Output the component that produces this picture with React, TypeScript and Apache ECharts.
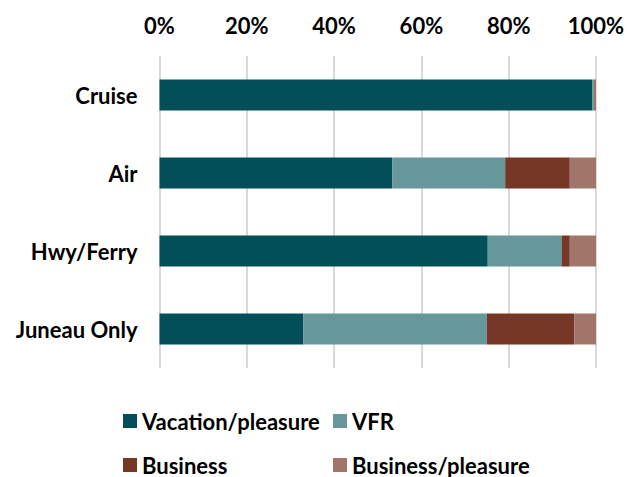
import React, { useEffect, useRef } from "react";
import * as echarts from "echarts";

const categories = ["Cruise", "Air", "Hwy/Ferry", "Juneau Only"];
const vacation = [99.1, 53.3, 75.2, 32.9];
const vfr = [0.4, 25.9, 16.9, 42.1];
const business = [0.2, 14.8, 1.9, 20.0];
const businessPleasure = [0.3, 6.0, 6.0, 5.0];
const xTicks = [0, 20, 40, 60, 80, 100];
const seriesNames = ["Vacation/pleasure", "VFR", "Business", "Business/pleasure"];
const seriesColors = ["#024e59", "#66979b", "#763727", "#a0766a"];

const FONT = "Lato";
const FS = 22;

export default function App() {
  const ref = useRef<HTMLDivElement>(null);
  useEffect(() => {
    const chart = echarts.init(ref.current!, null, { renderer: "svg" });
    const values = [vacation, vfr, business, businessPleasure];
    const legendPos = [
      { left: 123, top: 410 },
      { left: 333, top: 410 },
      { left: 123, top: 454 },
      { left: 333, top: 454 },
    ];
    chart.setOption({
      animation: false,
      textStyle: { fontFamily: FONT },
      grid: { left: 159.5, right: 41, top: 56, bottom: 109 },
      xAxis: {
        type: "value",
        position: "top",
        min: 0,
        max: 100,
        interval: 20,
        axisLine: { show: false },
        axisTick: { show: false },
        splitLine: { lineStyle: { color: "#d9d9d9", width: 2 } },
        axisLabel: {
          formatter: (v: number) => (xTicks.includes(v) ? v + "%" : ""),
          fontSize: FS,
          fontWeight: "bold",
          color: "#000",
          margin: 20,
          fontFamily: FONT,
        },
      },
      yAxis: {
        type: "category",
        data: categories,
        inverse: true,
        axisLine: { show: false },
        axisTick: { show: false },
        axisLabel: {
          fontSize: FS,
          fontWeight: "bold",
          color: "#000",
          margin: 22,
          fontFamily: FONT,
        },
      },
      legend: seriesNames.map((n, i) => ({
        data: [n],
        left: legendPos[i].left,
        top: legendPos[i].top,
        padding: 0,
        itemWidth: 14,
        itemHeight: 14,
        icon: "rect",
        textStyle: { fontSize: FS, fontWeight: "bold", color: "#000", fontFamily: FONT },
      })),
      series: seriesNames.map((n, i) => ({
        name: n,
        type: "bar",
        stack: "total",
        data: values[i],
        barWidth: 31,
        itemStyle: { color: seriesColors[i] },
      })),
    });
    return () => chart.dispose();
  }, []);
  return <div ref={ref} style={{ width: 637, height: 477, position: "absolute", left: 0, top: 0 }} />;
}
